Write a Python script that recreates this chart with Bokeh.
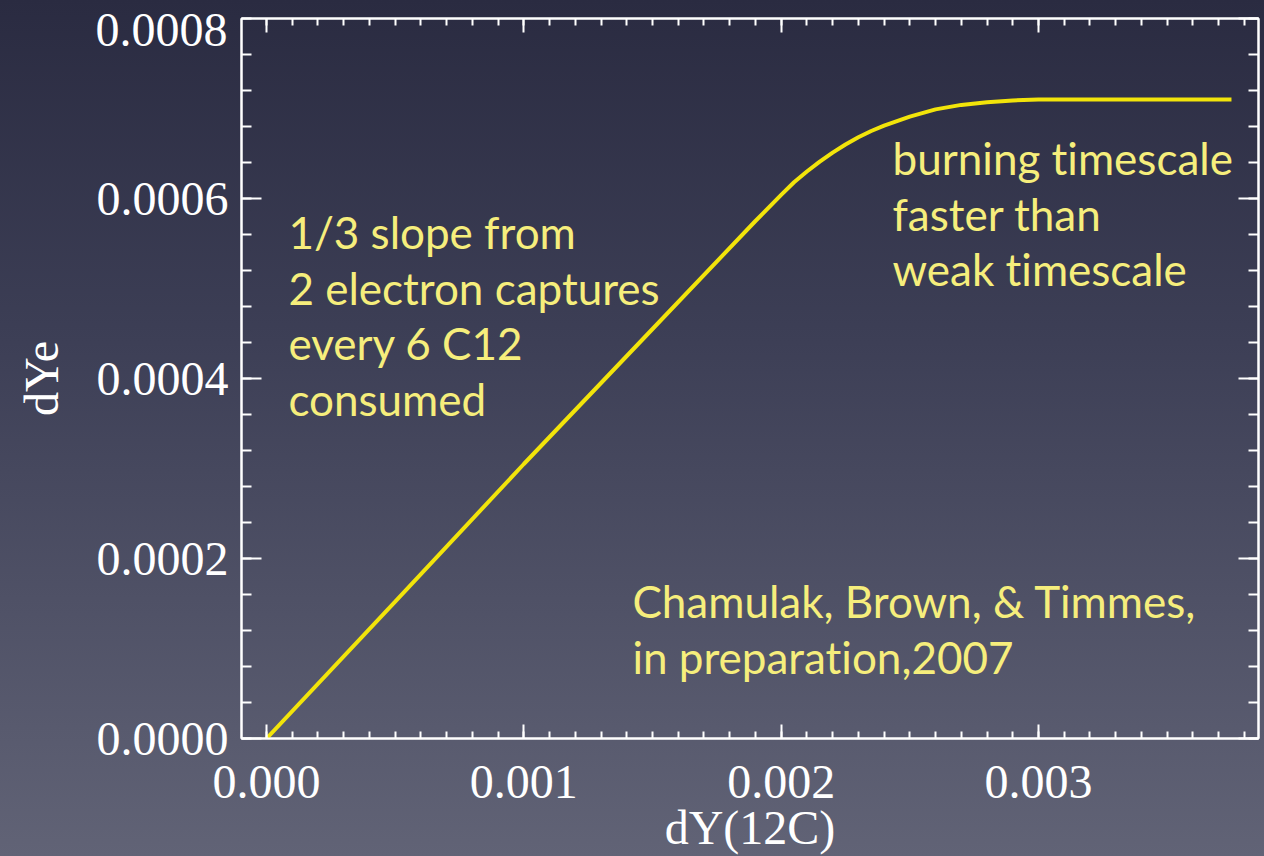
from bokeh.plotting import figure
from bokeh.models import Range1d, LinearAxis, FixedTicker, PrintfTickFormatter, ColumnDataSource
from bokeh.core.properties import value
from bokeh.embed import file_html
from bokeh.resources import INLINE
import numpy as np

# Change in electron fraction versus 12C consumed
dy_c12 = [0.0, 0.0005, 0.0010, 0.0015, 0.0019, 0.0020, 0.00205, 0.0021, 0.00215,
          0.0022, 0.00225, 0.0023, 0.00235, 0.0024, 0.0025, 0.0026, 0.0027,
          0.0028, 0.0029, 0.0030, 0.0032, 0.0035, 0.00375]
dy_e = [0.0, 0.000152, 0.000305, 0.000455, 0.000575, 0.000604, 0.000618, 0.000630,
        0.000641, 0.000651, 0.000660, 0.000668, 0.000675, 0.000681, 0.000691,
        0.000699, 0.000704, 0.000707, 0.000709, 0.000710, 0.000710, 0.000710,
        0.000710]

x_ticks = [0.000, 0.001, 0.002, 0.003]
y_ticks = [0.0000, 0.0002, 0.0004, 0.0006, 0.0008]

note_slope = ["1/3 slope from", "2 electron captures", "every 6 C12", "consumed"]
note_burn = ["burning timescale", "faster than", "weak timescale"]
note_ref = ["Chamulak, Brown, & Timmes,", "in preparation,2007"]

LINE = "#f2e40a"
TEXT = "#f6ee7c"
FG = "white"
SERIF = "Liberation Serif"
SANS = "Lato"
TICK_SIZE = "48px"
PX = 0.0008 / 720          # data units per pixel on the y axis

X0, X1 = -0.0000972, 0.003855
p = figure(width=1264, height=856, output_backend="svg", toolbar_location=None,
           x_range=Range1d(X0, X1), y_range=Range1d(0, 0.0008),
           min_border_left=241, min_border_right=6, min_border_top=18,
           min_border_bottom=118)
p.background_fill_color = None
p.border_fill_color = None
p.styles = {"background": "linear-gradient(to bottom, #2a2b41 0%, #3d3f56 40%, #616376 100%)",
            "font-variant-ligatures": "none",
            "font-feature-settings": "'liga' 0, 'clig' 0"}
p.stylesheets = ["text { font-variant-ligatures: none; font-feature-settings: 'liga' 0, 'clig' 0; }"]
p.outline_line_color = FG
p.outline_line_width = 2
p.grid.visible = False

x_minor = list(np.round(np.arange(0.0, 0.00386, 0.0001), 6))
y_minor = list(np.round(np.arange(0.0, 0.00081, 0.00004), 6))
xt = FixedTicker(ticks=x_ticks, minor_ticks=x_minor)
yt = FixedTicker(ticks=y_ticks, minor_ticks=y_minor)


def style_axis(ax, ticker, fmt, major, minor, labels=True):
    ax.ticker = ticker
    ax.formatter = PrintfTickFormatter(format=fmt)
    ax.axis_line_color = FG
    ax.axis_line_width = 2
    ax.major_tick_line_color = FG
    ax.minor_tick_line_color = FG
    ax.major_tick_line_width = 2
    ax.minor_tick_line_width = 2
    ax.major_tick_in = major
    ax.major_tick_out = 0
    ax.minor_tick_in = minor
    ax.minor_tick_out = 0
    ax.major_label_text_font = SERIF
    if labels:
        ax.major_label_text_color = FG
        ax.major_label_text_font_size = TICK_SIZE
    else:
        ax.major_label_text_color = None
        ax.major_label_text_font_size = "1px"
    ax.axis_label_text_color = FG
    ax.axis_label_text_font = SERIF
    ax.axis_label_text_font_size = TICK_SIZE
    ax.axis_label_text_font_style = "normal"


xa = p.xaxis[0]
style_axis(xa, xt, "%.3f", 14, 7)
xa.axis_label = "dY(12C)"
xa.major_label_standoff = 27
xa.axis_label_standoff = 0

# inner left axis: ticks and all labels but the top one
ya = p.yaxis[0]
style_axis(ya, FixedTicker(ticks=y_ticks[:-1], minor_ticks=y_minor), "%.4f", 20, 10)
ya.major_label_standoff = 13

# outer left axis: the top label, set a little below the frame edge, plus the title
p.extra_y_ranges = {"top_label": Range1d(11 * PX, 0.0008 + 11 * PX)}
ya2 = LinearAxis(y_range_name="top_label")
style_axis(ya2, FixedTicker(ticks=y_ticks[-1:], minor_ticks=[]), "%.4f", 0, 0)
ya2.axis_line_color = None
ya2.major_tick_line_color = None
ya2.minor_tick_line_color = None
ya2.major_label_standoff = -134
ya2.axis_label = "dYe"
ya2.axis_label_standoff = 25
p.add_layout(ya2, "left")

top = LinearAxis()
style_axis(top, xt, "%.3f", 14, 7, labels=False)
p.add_layout(top, "above")
right = LinearAxis()
style_axis(right, yt, "%.4f", 20, 10, labels=False)
p.add_layout(right, "right")

p.line(dy_c12, dy_e, line_color=LINE, line_width=4)


def note(lines, x0, y0, step):
    src = ColumnDataSource(dict(x=[x0] * len(lines),
                                y=[y0 - i * step for i in range(len(lines))],
                                t=lines))
    p.text("x", "y", text="t", source=src, text_color=TEXT,
           text_font=value(SANS), text_font_size="44px",
           text_baseline="alphabetic", text_align="left")


step = 55.5 / 900000
note(note_slope, 0.000085, 0.0005456 + 15 / 900000, step)
note(note_burn, 0.002433, 0.0006278 + 15 / 900000, step)
note(note_ref, 0.001422, 0.0001256 + 24 / 900000, step)

open("out.html", "w").write(file_html(p, INLINE))
